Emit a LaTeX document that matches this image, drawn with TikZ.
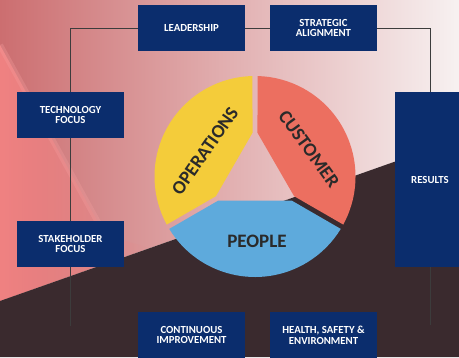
\documentclass[tikz,border=0pt]{standalone}
\usepackage{fontspec}
\setmainfont{Carlito}
\usepackage{xcolor}
\usepackage{tikz}
\usetikzlibrary{
	calc,
	fadings
}
\definecolor{navy}{RGB}{11,45,109}
\definecolor{bgleft}{RGB}{204,110,112}
\definecolor{bgmid}{RGB}{228,168,168}
\definecolor{bgright}{RGB}{247,241,241}
\definecolor{bgsalmon}{RGB}{240,130,130}
\definecolor{bgband}{RGB}{246,160,160}
\definecolor{bgdark}{RGB}{58,42,46}
\definecolor{segyellow}{RGB}{244,204,58}
\definecolor{segred}{RGB}{236,111,96}
\definecolor{segblue}{RGB}{94,170,220}
\definecolor{labelcolor}{RGB}{42,42,42}
\definecolor{wirecolor}{RGB}{60,60,60}

\begin{document}
\begin{tikzpicture}
	[x=1pt, y=1pt,
	 navybox/.style={fill=navy, text=white, align=center, inner sep=0pt,
		minimum width=107pt, minimum height=46pt,
		font=\bfseries\fontsize{10.8}{10.7}\selectfont},
	 seglabel/.style={text=labelcolor, font=\bfseries\fontsize{19}{20}\selectfont},
	 wire/.style={draw=wirecolor, line width=0.8pt}]

	\useasboundingbox (0,0) rectangle (459,357);
	\clip (0,0) rectangle (459,357);

	% background
	\begin{scope}
		\shade[left color=bgleft, middle color=bgmid, right color=bgright]
			(0,56) -- (0,357) -- (459,357) -- (459,218) -- cycle;
		% salmon strip on the left
		\fill[bgsalmon, path fading=east] (0,56) -- (0,312) -- (105,122) -- (150,109) -- cycle;
		\draw[bgband, line width=6pt, opacity=.3] (0,312) -- (105,122);
		\fill[bgdark] (0,0) -- (0,56) -- (459,218) -- (459,0) -- cycle;
	\end{scope}

	% wheel
	\begin{scope}
		\coordinate (hub) at (255,180.5);
		\newcommand{\OuterRadius}{100.5}
		\newcommand{\InnerRadius}{43.77}
		\newcommand{\GapAngle}{1.43}
		\newcommand{\InnerAngle}{3.27}
		\foreach \a/\col in {90/segyellow, 210/segblue, 330/segred} {
			\fill[\col] ($(hub)+(\a+\GapAngle:\OuterRadius)$)
				arc[start angle=\a+\GapAngle, end angle=\a+120-\GapAngle, radius=\OuterRadius]
				-- ($(hub)+(\a+120-\InnerAngle:\InnerRadius)$)
				-- ($(hub)+(\a+\InnerAngle:\InnerRadius)$)
				-- cycle;
		}

		% labels
		\node[seglabel, rotate=55] (ops) at (205,206) {OPERATIONS};
		\node[seglabel, rotate=-54] (cust) at (309,208) {CUSTOMER};
		\node[seglabel] (people) at (257,116) {PEOPLE};
	\end{scope}

	% boxes
	\begin{scope}
		\node[navybox] (lead) at (191.5,329) {LEADERSHIP};
		\node[navybox] (strat) at (323.5,329) {STRATEGIC\\ALIGNMENT};
		\node[navybox] (tech) at (70.5,242) {TECHNOLOGY\\FOCUS};
		\node[navybox] (stake) at (70.5,113) {STAKEHOLDER\\FOCUS};
		\node[navybox] (improve) at (191.5,22) {CONTINUOUS\\IMPROVEMENT};
		\node[navybox] (health) at (323.5,22) {HEALTH, SAFETY \&\\ENVIRONMENT};
		\node[navybox, minimum width=70pt, minimum height=175pt] (results) at (430,177.5) {RESULTS};
	\end{scope}

	% connecting lines
	\begin{scope}
		\coordinate (leftend) at (70.5,31);
		\coordinate (rightend) at (430,32);
		\draw[wire] (lead.west) -| (tech.north);
		\draw[wire] (tech.south) -- (stake.north);
		\draw[wire] (stake.south) -- (leftend);
		\draw[wire] (lead.east) -- (strat.west);
		\draw[wire] (strat.east) -| (results.north);
		\draw[wire] (results.south) -- (rightend);
	\end{scope}

\end{tikzpicture}
\end{document}
